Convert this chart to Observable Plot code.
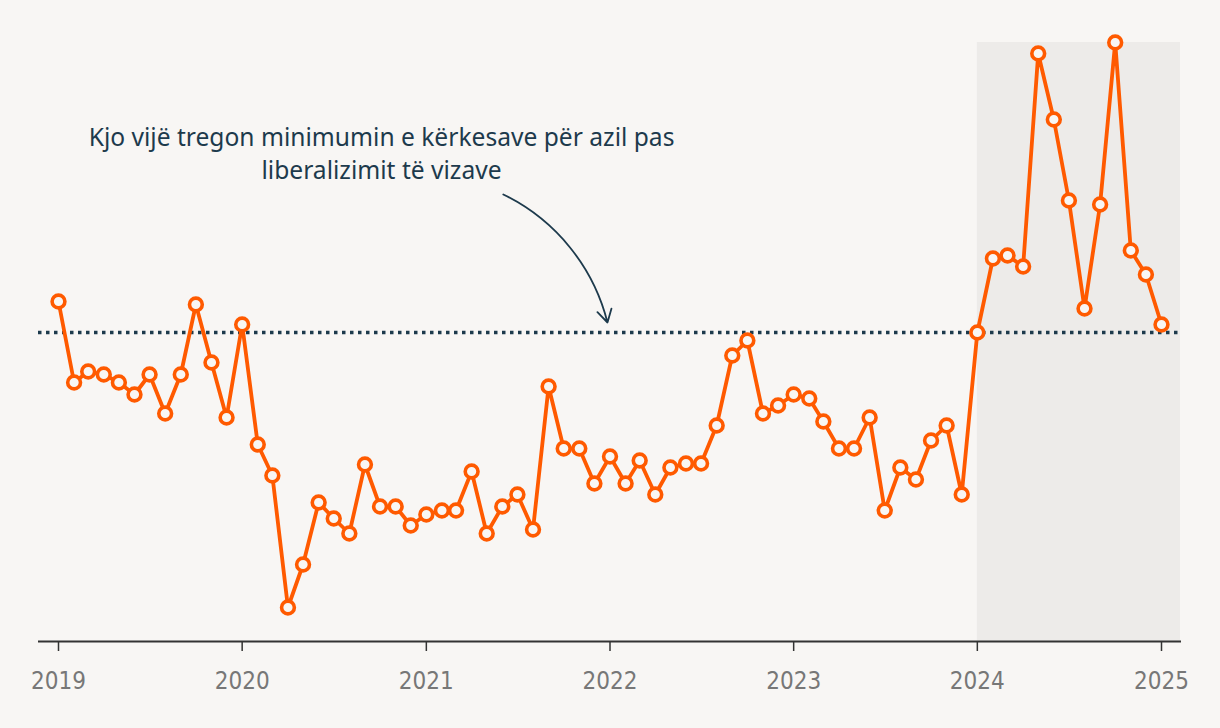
<!DOCTYPE html>
<html>
<head>
<meta charset="utf-8">
<script src="https://cdn.jsdelivr.net/npm/d3@7"></script>
<script src="https://cdn.jsdelivr.net/npm/@observablehq/plot@0.6"></script>
<style>
  html, body { margin: 0; padding: 0; background: #f8f6f4; }
  #chart { width: 1220px; height: 728px; }
</style>
</head>
<body>
<div id="chart"></div>
<script>
// Monthly values, Jan 2019 – Jan 2025
const values2019 = [340, 259, 270, 267, 259, 247, 267, 228, 267, 337, 279, 224];
const values2020 = [317, 197, 166, 34, 77, 139, 123, 108, 177, 135, 135, 116];
const values2021 = [127, 131, 131, 170, 108, 135, 147, 112, 255, 193, 193, 158];
const values2022 = [185, 158, 181, 147, 174, 178, 178, 216, 286, 301, 228, 236];
const values2023 = [247, 243, 220, 193, 193, 224, 131, 174, 162, 201, 216, 147];
const values2024 = [309, 383, 386, 375, 588, 522, 441, 333, 437, 599, 391, 367];
const values2025 = [317];
const startMonth = "2019-01-01";

const tickYears = ["2019", "2020", "2021", "2022", "2023", "2024", "2025"];
const threshold = [309];
const highlight = [{start: "2024-01-01", end: "2025-01-01"}];
const annotationLines = ["Kjo vijë tregon minimumin e kërkesave për azil pas", "liberalizimit të vizave"];
const annotationAt = {x: "2020-10-04", y: 519};
const arrowData = [{x1: "2021-06-03", y1: 447, x2: "2021-12-27", y2: 319}];

const allValues = [...values2019, ...values2020, ...values2021, ...values2022, ...values2023, ...values2024, ...values2025];
const t0 = new Date(startMonth);
const data = allValues.map((v, i) => ({date: d3.utcMonth.offset(t0, i), value: v}));
const tickDates = tickYears.map(y => new Date(`${y}-01-01`));

const ORANGE = "#ff5a00";
const NAVY = "#1d3a4c";
const BG = "#f8f6f4";

const chart = Plot.plot({
  width: 1220,
  height: 728,
  marginTop: 42,
  marginBottom: 87,
  marginLeft: 38,
  marginRight: 39,
  style: {background: BG, fontFamily: "'Noto Sans', sans-serif"},
  x: {type: "utc", domain: [tickDates[0], tickDates[tickDates.length - 1]], insetLeft: 20, insetRight: 20},
  y: {domain: [0, d3.max(allValues)], axis: null},
  marks: [
    Plot.rect(highlight, {x1: d => new Date(d.start), x2: d => new Date(d.end), fill: "#edebe9", insetRight: -19}),
    Plot.ruleY(threshold, {stroke: NAVY, strokeWidth: 3.5, strokeDasharray: "3.5,4.5"}),
    Plot.ruleY([0], {stroke: "#333", strokeWidth: 2}),
    Plot.axisX({
      ticks: tickDates,
      tickFormat: d3.utcFormat("%Y"),
      tickSize: 10,
      tickPadding: 20,
      stroke: "#333",
      strokeWidth: 1.5,
      fill: "#777",
      fontSize: 24,
      fontFamily: "'Liberation Sans Narrow', 'DejaVu Sans Condensed', sans-serif",
      label: null
    }),
    Plot.line(data, {x: "date", y: "value", stroke: ORANGE, strokeWidth: 3.8}),
    Plot.dot(data, {x: "date", y: "value", r: 6.4, fill: BG, stroke: ORANGE, strokeWidth: 3.6}),
    Plot.text([annotationLines.join("\n")], {
      x: () => new Date(annotationAt.x), y: () => annotationAt.y,
      text: d => d, textAnchor: "middle", lineAnchor: "top",
      fontSize: 24.6, lineHeight: 1.34, fill: NAVY
    }),
    Plot.arrow(arrowData, {
      x1: d => new Date(d.x1), y1: "y1", x2: d => new Date(d.x2), y2: "y2",
      bend: 25, stroke: NAVY, strokeWidth: 1.8, headLength: 12
    })
  ]
});
document.getElementById("chart").appendChild(chart);
</script>
</body>
</html>
